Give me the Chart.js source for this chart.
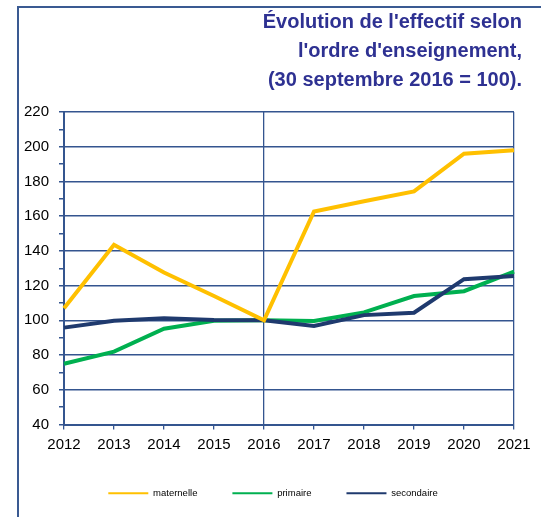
<!DOCTYPE html>
<html>
<head>
<meta charset="utf-8">
<script src="https://cdn.jsdelivr.net/npm/chart.js@4"></script>
<style>
  html, body { margin: 0; padding: 0; background: #ffffff; }
  #wrap { position: relative; width: 541px; height: 517px; overflow: hidden; }
  #frame { position: absolute; left: 17px; top: 6px; right: -4px; bottom: -4px;
           border-left: 2px solid #3a5a92; border-top: 2px solid #3a5a92; }
  canvas { position: absolute; left: 0; top: 0; }
</style>
</head>
<body>
<div id="wrap">
  <div id="frame"></div>
  <canvas id="c" width="541" height="517"></canvas>
</div>
<script>
const titleLines = ["Évolution de l'effectif selon", "l'ordre d'enseignement,", "(30 septembre 2016 = 100)."];
const years = ["2012", "2013", "2014", "2015", "2016", "2017", "2018", "2019", "2020", "2021"];
const seriesNames = ["maternelle", "primaire", "secondaire"];
const maternelle = [107, 143.5, 127.5, 114, 100, 162.7, 168.6, 174.3, 196, 198];
const primaire   = [75, 82, 95.2, 99.8, 100, 99.6, 104.6, 114, 116.8, 128];
const secondaire = [95.8, 99.8, 101.2, 100.2, 100, 96.8, 103, 104.4, 123.7, 125.6];
const yMin = 40, yMax = 220, yMajor = 20, yMinor = 10;
const markedYears = ["2016", "2021"];

const colors = ["#FFC000", "#00B050", "#1F3A6E"];
const gridBlue = "#34558f";
const fontFam = "'Liberation Sans', Arial, sans-serif";

const values = [maternelle, primaire, secondaire];
const drawOrder = [1, 3, 2];

const datasets = seriesNames.map((name, i) => ({
  label: name,
  data: values[i],
  borderColor: colors[i],
  backgroundColor: colors[i],
  borderWidth: 4,
  pointRadius: 0,
  pointHoverRadius: 0,
  tension: 0,
  fill: false,
  order: drawOrder[i]
}));

new Chart(document.getElementById("c"), {
  type: "line",
  data: { labels: years, datasets },
  options: {
    responsive: false,
    devicePixelRatio: 1,
    animation: false,
    events: [],
    layout: { padding: { left: 24, right: 19, top: 0, bottom: 9 } },
    plugins: {
      tooltip: { enabled: false },
      title: {
        display: true,
        text: titleLines,
        align: "end",
        color: "#2e3192",
        font: { family: fontFam, size: 20, weight: "bold", lineHeight: 1.45 },
        padding: { top: 8, bottom: 17 }
      },
      legend: {
        position: "bottom",
        labels: {
          boxWidth: 40,
          boxHeight: 2,
          padding: 35,
          color: "#333333",
          font: { family: fontFam, size: 9.5 },
          generateLabels: (chart) => chart.data.datasets.map((ds, i) => ({
            text: ds.label,
            fillStyle: ds.borderColor,
            strokeStyle: ds.borderColor,
            lineWidth: 0,
            hidden: false,
            datasetIndex: i
          }))
        }
      }
    },
    scales: {
      x: {
        type: "category",
        offset: false,
        border: { display: true, color: gridBlue, width: 2 },
        grid: {
          drawOnChartArea: true,
          color: (ctx) => (ctx.tick && markedYears.includes(years[ctx.index])) ? gridBlue : "rgba(0,0,0,0)",
          tickColor: gridBlue,
          lineWidth: 1.3,
          tickLength: 5
        },
        ticks: {
          color: "#000000",
          font: { family: fontFam, size: 15 },
          padding: 6,
          autoSkip: false,
          maxRotation: 0
        },
        afterFit: (scale) => { scale.paddingRight = 27; scale.height = 29; }
      },
      y: {
        min: yMin,
        max: yMax,
        border: { display: true, color: gridBlue, width: 2 },
        grid: {
          color: (ctx) => (ctx.tick && ctx.tick.value % yMajor === 0) ? gridBlue : "rgba(0,0,0,0)",
          tickColor: gridBlue,
          lineWidth: 1.5,
          tickLength: 5
        },
        ticks: {
          stepSize: yMinor,
          autoSkip: false,
          color: "#000000",
          font: { family: fontFam, size: 15 },
          padding: 10,
          callback: (v) => (v % yMajor === 0 ? String(v) : "")
        },
        afterFit: (scale) => { scale.width = 40; }
      }
    }
  }
});
</script>
</body>
</html>
